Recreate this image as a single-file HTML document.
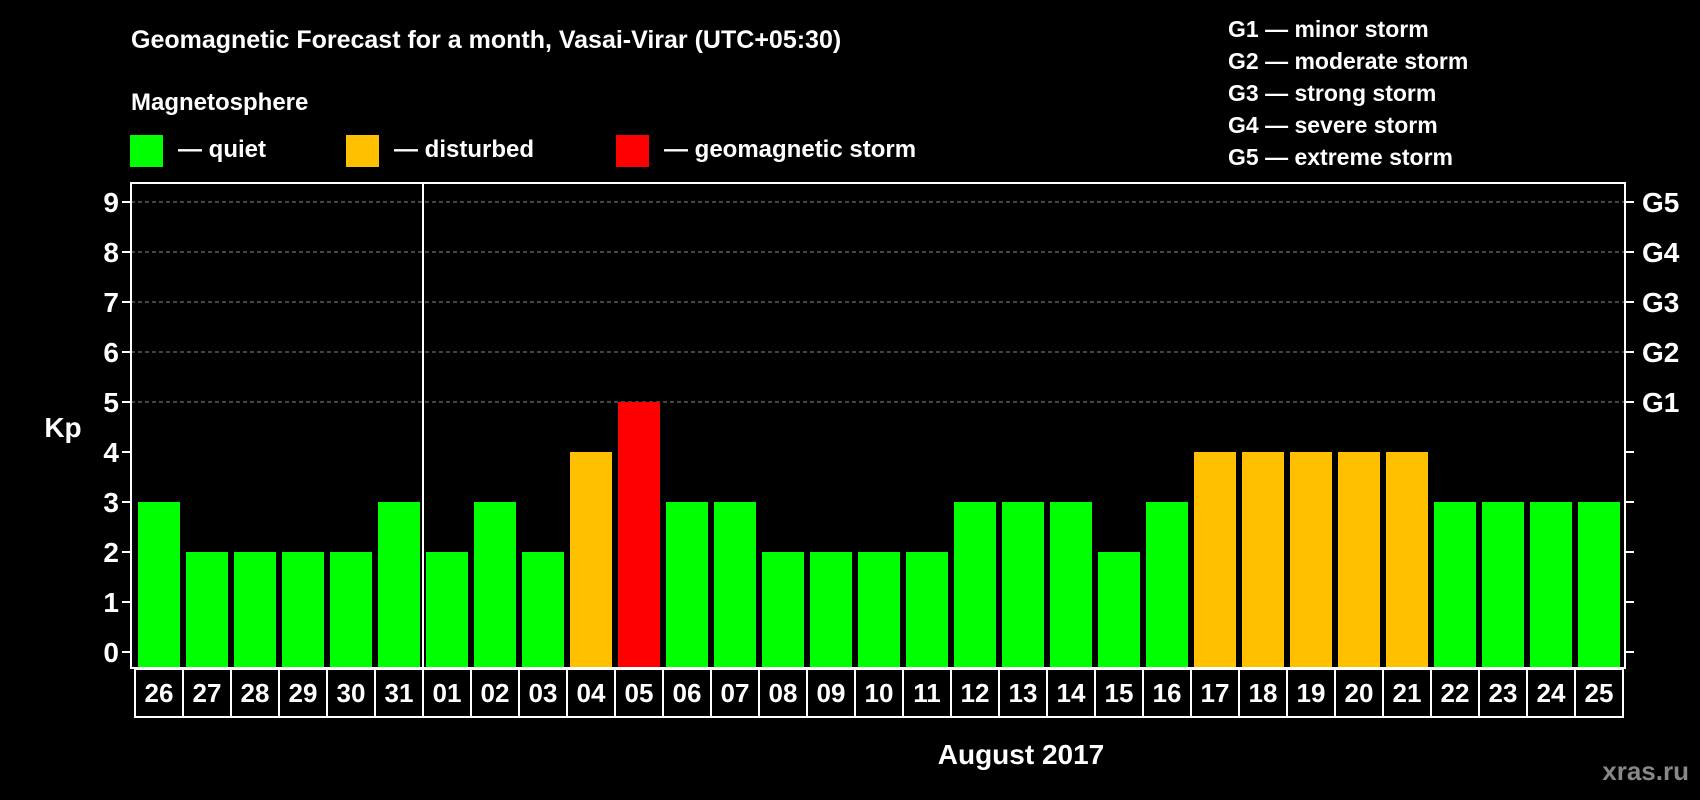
<!DOCTYPE html>
<html><head><meta charset="utf-8"><style>
html,body{margin:0;padding:0;background:#000;}
svg{display:block;font-family:"Liberation Sans",sans-serif;font-weight:bold;}
</style></head><body>
<svg id="chart" width="1700" height="800" viewBox="0 0 1700 800">
<rect x="0" y="0" width="1700" height="800" fill="#000"/>
<text x="131" y="48" fill="#fff" font-size="25">Geomagnetic Forecast for a month, Vasai-Virar (UTC+05:30)</text>
<text x="131" y="110" fill="#fff" font-size="24">Magnetosphere</text>
<g>
<rect x="130" y="135" width="33" height="32" fill="#00ff00"/><text x="178" y="157" fill="#fff" font-size="24">— quiet</text></g>
<g>
<rect x="346" y="135" width="33" height="32" fill="#ffc000"/><text x="394" y="157" fill="#fff" font-size="24">— disturbed</text></g>
<g>
<rect x="616" y="135" width="33" height="32" fill="#ff0000"/><text x="664" y="157" fill="#fff" font-size="24">— geomagnetic storm</text></g>
<g fill="#fff" font-size="23">
<text x="1228" y="37">G1 — minor storm</text>
<text x="1228" y="69">G2 — moderate storm</text>
<text x="1228" y="101">G3 — strong storm</text>
<text x="1228" y="133">G4 — severe storm</text>
<text x="1228" y="165">G5 — extreme storm</text>
</g>
<text x="63" y="437" fill="#fff" font-size="28" text-anchor="middle">Kp</text>
<g id="grid"></g>
<g id="bars"></g>
<g id="axes"></g>
<text x="1021" y="764" fill="#fff" font-size="28" text-anchor="middle">August 2017</text>
<text x="1689" y="780" fill="#888" font-size="26" text-anchor="end">xras.ru</text>
</svg>
<script>
const days = ["26","27","28","29","30","31","01","02","03","04","05","06","07","08","09","10","11","12","13","14","15","16","17","18","19","20","21","22","23","24","25"];
const kpValues = [3,2,2,2,2,3,2,3,2,4,5,3,3,2,2,2,2,3,3,3,2,3,4,4,4,4,4,3,3,3,3];
const yTicks = [0,1,2,3,4,5,6,7,8,9];
const gLabels = ["","","","","","G1","G2","G3","G4","G5"];
const monthBreakIndex = 6;

const NS = "http://www.w3.org/2000/svg";
const L = 131, R = 1625, T = 183, B = 668;
const pitch = 48, x0 = 135;
function y(v){ return 652 - v * 50; }
function xSlot(i){ return x0 + i * pitch; }
function mk(tag, attrs, parent){ const e = document.createElementNS(NS, tag); for (const k in attrs) e.setAttribute(k, attrs[k]); parent.appendChild(e); return e; }
function color(v){ return v >= 5 ? "#ff0000" : (v >= 4 ? "#ffc000" : "#00ff00"); }

const grid = document.getElementById("grid"), bars = document.getElementById("bars"), axes = document.getElementById("axes");
yTicks.forEach(t => {
  if (t >= 5) {
    const g = mk("line", {x1:L, x2:R, y1:y(t), y2:y(t), stroke:"#888", "stroke-width":1, "stroke-dasharray":"4,3"}, grid);
    
    
  }
  const tl = mk("line", {x1:L-9, x2:L, y1:y(t), y2:y(t), stroke:"#fff", "stroke-width":2}, axes);
  
  
  const tr = mk("line", {x1:R, x2:R+9, y1:y(t), y2:y(t), stroke:"#fff", "stroke-width":2}, axes);
  
  
  const lb = mk("text", {x:119, y:y(t)+10, fill:"#fff", "font-size":28, "text-anchor":"end"}, axes);
  lb.textContent = t;
  
  
  if (gLabels[t]) {
    const gl = mk("text", {x:1642, y:y(t)+10, fill:"#fff", "font-size":28}, axes);
    gl.textContent = gLabels[t];
    
    
  }
});
kpValues.forEach((v, i) => {
  const r = mk("rect", {x:xSlot(i)+3, y:y(v), width:42, height:y(0)-y(v)+16, fill:color(v)}, bars);
  
  
});
const frame = mk("rect", {x:L, y:T, width:R-L, height:B-T, fill:"none", stroke:"#fff", "stroke-width":2}, axes);


const sep = mk("line", {x1:xSlot(monthBreakIndex), x2:xSlot(monthBreakIndex), y1:T, y2:B, stroke:"#fff", "stroke-width":2}, axes);


days.forEach((d, i) => {
  const bx = mk("rect", {x:xSlot(i), y:669, width:pitch, height:48, fill:"none", stroke:"#fff", "stroke-width":2}, axes);
  
  
  const t = mk("text", {x:xSlot(i)+pitch/2, y:702, fill:"#fff", "font-size":26, "text-anchor":"middle"}, axes);
  t.textContent = d;
  
  
});
</script>
</body></html>
